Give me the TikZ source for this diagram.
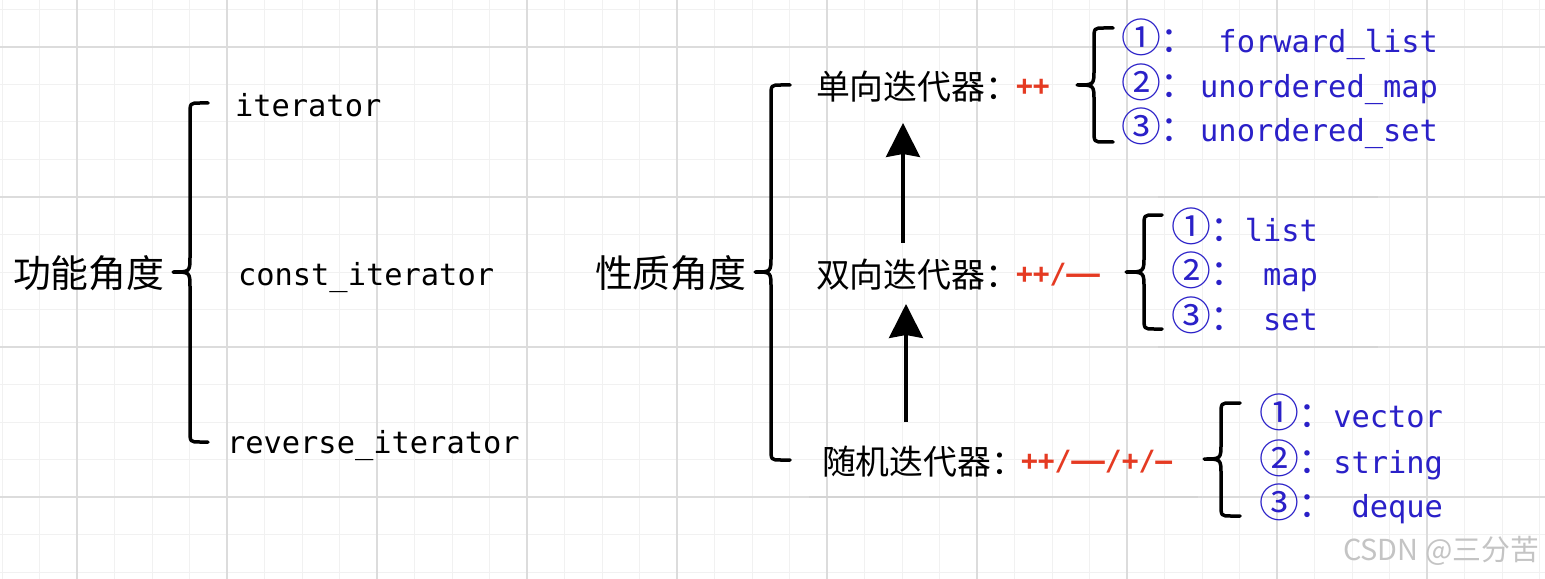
\documentclass[tikz,border=0pt]{standalone}
\usepackage{fontspec}
\newfontfamily\cjkf{Noto Sans CJK SC}
\newfontfamily\monof{DejaVu Sans Mono}
\usetikzlibrary{arrows.meta}
\definecolor{gridmajor}{HTML}{DCDCDC}
\definecolor{gridminor}{HTML}{F1F1F1}
\definecolor{opred}{HTML}{E53A22}
\definecolor{cblue}{HTML}{2A20C8}
\definecolor{wmgray}{HTML}{C4C4C4}
\definecolor{boxline}{HTML}{D4D4D4}
\newcommand\mybrace[6]{% #1 end x, #2 vertical x, #3 tip x, #4 ytop, #5 ymid, #6 ybot
  \draw[bracepath] (#1,#4) -- ({#2+10},#4) .. controls (#2,#4) .. (#2,{#4+12})
    -- (#2,{#5-16}) .. controls (#2,#5) .. (#3,#5)
    .. controls (#2,#5) .. (#2,{#5+16})
    -- (#2,{#6-12}) .. controls (#2,#6) .. ({#2+10},#6) -- (#1,#6);}
\newcommand\circnum[1]{{\fontsize{40}{40}\selectfont #1}：}
\begin{document}
\begin{tikzpicture}[x=1bp,y=-1bp,
  every node/.style={inner sep=0pt, outer sep=0pt},
  bigcjk/.style={font=\cjkf\fontsize{38}{44}\selectfont, anchor=west},
  cjklabel/.style={font=\cjkf\fontsize{34}{40}\selectfont, anchor=west},
  monolabel/.style={font=\monof\fontsize{30.5}{36}\selectfont, anchor=base west},
  ops/.style={font=\monof\bfseries\fontsize{28}{34}\selectfont, text=opred, anchor=west},
  num/.style={font=\cjkf\fontsize{36}{40}\selectfont, text=cblue, anchor=base west},
  word/.style={font=\monof\fontsize{30.5}{36}\selectfont, text=cblue, anchor=base east},
  bracepath/.style={line width=3.5bp, line cap=round, line join=round},
  uparrow/.style={line width=3.2bp, -{Stealth[length=34bp,width=34bp,inset=3bp]}},
  boxedge/.style={boxline, line width=1.6bp},
]
\useasboundingbox (0,0) rectangle (1545,579);
\fill[white] (0,0) rectangle (1545,579);
% grid
\foreach \i in {0,...,41} \draw[gridminor, line width=1bp] ({2+37.5*\i},0) -- ({2+37.5*\i},579);
\foreach \j in {0,...,15} \draw[gridminor, line width=1bp] (0,{9.5+37.5*\j}) -- (1545,{9.5+37.5*\j});
\foreach \i in {0,...,9} \draw[gridmajor, line width=1.2bp] ({77+150*\i},0) -- ({77+150*\i},579);
\foreach \j in {0,...,3} \draw[gridmajor, line width=1.2bp] (0,{47+150*\j}) -- (1545,{47+150*\j});
% faint box edges
\draw[boxedge] (1158,197) -- (1378,197);
\draw[boxedge] (1158,347) -- (1378,347);
\draw[boxedge] (809,497) -- (1198,497);

% left part
\node[bigcjk] (gn) at (13,273) {功能角度};
\mybrace{208}{190}{173}{103}{272}{442}
\node[monolabel] (it) at (235,117) {iterator};
\node[monolabel] (cit) at (238,285) {const\_iterator};
\node[monolabel] (rit) at (227,453) {reverse\_iterator};

% middle part
\node[bigcjk] (xz) at (595,273) {性质角度};
\mybrace{790}{771}{755}{85}{272}{460}
\node[cjklabel] (dx) at (816,87) {单向迭代器：};
\node[ops] (dxop) at (1016,87) {++};
\node[cjklabel] (sx) at (816,275) {双向迭代器：};
\node[ops] (sxop) at (1016,275) {++/––};
\node[cjklabel] (sj) at (822,462) {随机迭代器：};
\node[ops] (sjop) at (1021,462) {++/––/+/–};

\coordinate (a1s) at (903,243);
\coordinate (a1e) at (903,123);
\coordinate (a2s) at (906,422);
\coordinate (a2e) at (906,304);
\draw[uparrow] (a1s) -- (a1e);
\draw[uparrow] (a2s) -- (a2e);

% group 1
\mybrace{1113}{1094}{1077}{28}{85}{142}
\node[num] (g1n1) at (1121,53) {\circnum{①}};
\node[word] (g1w1) at (1438,53) {forward\_list};
\node[num] (g1n2) at (1121,98) {\circnum{②}};
\node[word] (g1w2) at (1438,98) {unordered\_map};
\node[num] (g1n3) at (1121,142) {\circnum{③}};
\node[word] (g1w3) at (1438,142) {unordered\_set};

% group 2
\mybrace{1162}{1144}{1126}{215}{272}{329}
\node[num] (g2n1) at (1171,241) {\circnum{①}};
\node[word] (g2w1) at (1318,241) {list};
\node[num] (g2n2) at (1171,285) {\circnum{②}};
\node[word] (g2w2) at (1318,285) {map};
\node[num] (g2n3) at (1171,330) {\circnum{③}};
\node[word] (g2w3) at (1318,330) {set};

% group 3
\mybrace{1240}{1221}{1204}{403}{459}{516}
\node[num] (g3n1) at (1259,427) {\circnum{①}};
\node[word] (g3w1) at (1443,427) {vector};
\node[num] (g3n2) at (1259,473) {\circnum{②}};
\node[word] (g3w2) at (1443,473) {string};
\node[num] (g3n3) at (1259,517) {\circnum{③}};
\node[word] (g3w3) at (1443,517) {deque};

% watermark
\node[font=\cjkf\fontsize{29}{34}\selectfont, text=wmgray, anchor=west] (wm) at (1343,551) {CSDN @三分苦};
\end{tikzpicture}
\end{document}
